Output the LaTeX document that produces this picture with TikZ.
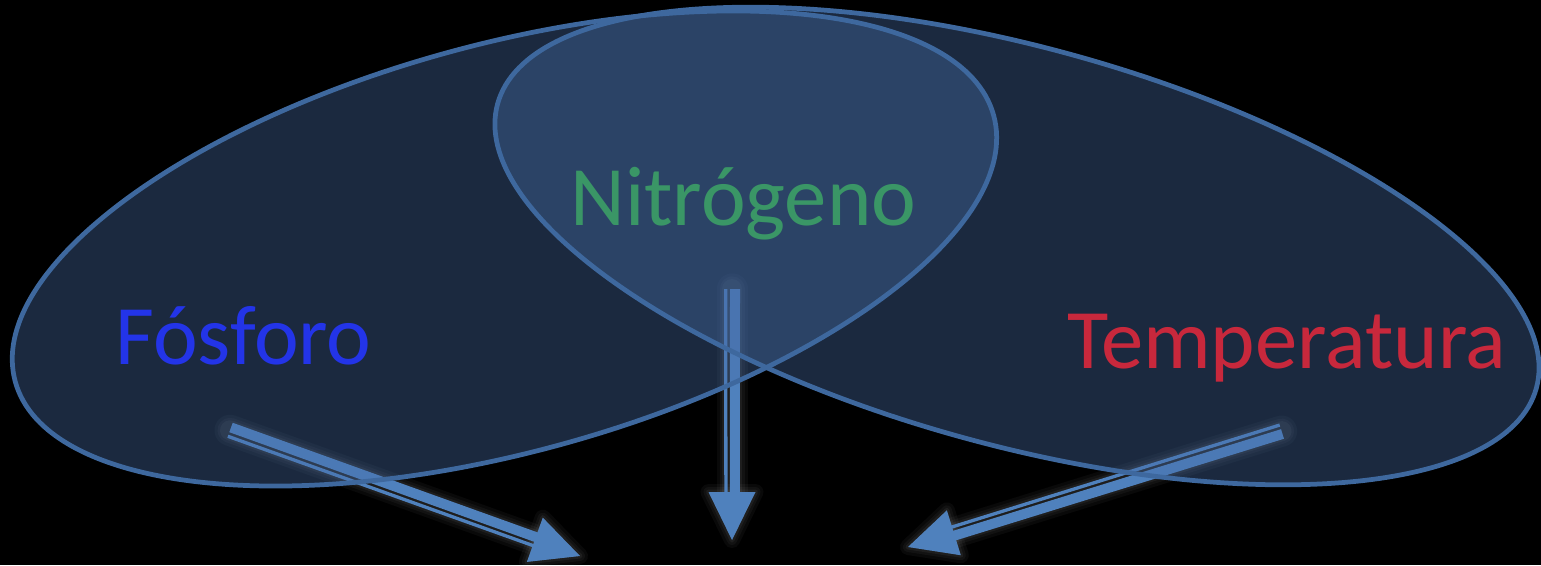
\documentclass[tikz,border=0pt]{standalone}
\usepackage{fontspec}
\setmainfont{Carlito}
\usetikzlibrary{calc}
\definecolor{arrowblue}{RGB}{79,129,189}
\definecolor{ellfill}{RGB}{71,110,168}
\definecolor{elledge}{RGB}{62,104,158}
\definecolor{phos}{RGB}{35,52,232}
\definecolor{nitro}{RGB}{58,150,102}
\definecolor{tempc}{RGB}{200,40,60}
\tikzset{
  ellarea/.style={fill=ellfill, fill opacity=0.38},
  elline/.style={draw=elledge, line width=0.095cm},
  label/.style={anchor=base west, inner sep=0pt, font=\fontsize{48.2}{58}\selectfont},
  glowline/.style={draw=white, line cap=round, line join=round},
}
% #1 start coordinate, #2 tip coordinate
\newcommand{\dblarrow}[2]{%
  \coordinate (#2-b) at ($(#2)!0.96cm!(#1)$);
  % soft glow
  \foreach \w/\o in {0.62cm/0.035,0.5cm/0.04,0.4cm/0.05}{
    \begin{scope}[yshift=-0.04cm]
    \draw[glowline, opacity=\o, line width=\w] (#1) -- (#2-b);
    \filldraw[glowline, fill=white, opacity=\o, line width=\w-0.3cm]
      ($(#2-b)!0.47cm!90:(#2)$) -- (#2) -- ($(#2-b)!0.47cm!-90:(#2)$) -- cycle;
    \end{scope}
  }
  \draw[arrowblue, line width=0.2cm]
    ($(#1)!0.06cm!90:(#2)$) -- ($($(#2-b)!0.06cm!90:(#2)$)!0.04cm!(#2)$);
  \draw[arrowblue, line width=0.066cm]
    ($(#1)!0.127cm!-90:(#2)$) -- ($($(#2-b)!0.127cm!-90:(#2)$)!0.04cm!(#2)$);
  \fill[arrowblue] ($(#2-b)!0.47cm!90:(#2)$) -- (#2) -- ($(#2-b)!0.47cm!-90:(#2)$) -- cycle;
}
\begin{document}
\begin{tikzpicture}[x=0.02cm,y=0.02cm]
\fill[black] (0,0) rectangle (1541,-565);
\useasboundingbox (0,0) rectangle (1541,-565);

% arrow end points
\coordinate (ps) at (230,-430.3);
\coordinate (pt) at (580,-556);
\coordinate (ns) at (732,-289);
\coordinate (nt) at (732,-540);
\coordinate (ts) at (1281.6,-431.1);
\coordinate (tt) at (908,-547);

\dblarrow{ps}{pt}
\dblarrow{ns}{nt}
\dblarrow{ts}{tt}

% ellipses
\coordinate (lc) at (504.5,-248.5);
\coordinate (rc) at (1017,-246);
\path[ellarea, rotate around={15.2:(lc)}] (lc) ellipse [x radius=507, y radius=204];
\path[ellarea, rotate around={-15.3:(rc)}] (rc) ellipse [x radius=538.5, y radius=199];
\path[elline, rotate around={15.2:(lc)}] (lc) ellipse [x radius=507, y radius=204];
\path[elline, rotate around={-15.3:(rc)}] (rc) ellipse [x radius=538.5, y radius=199];

% labels
\node[label, text=phos] (fos) at (115,-364) {Fósforo};
\node[label, text=nitro] (nit) at (570,-225) {Nitrógeno};
\node[label, text=tempc] (tem) at (1067,-368) {Temperatura};
\end{tikzpicture}
\end{document}
